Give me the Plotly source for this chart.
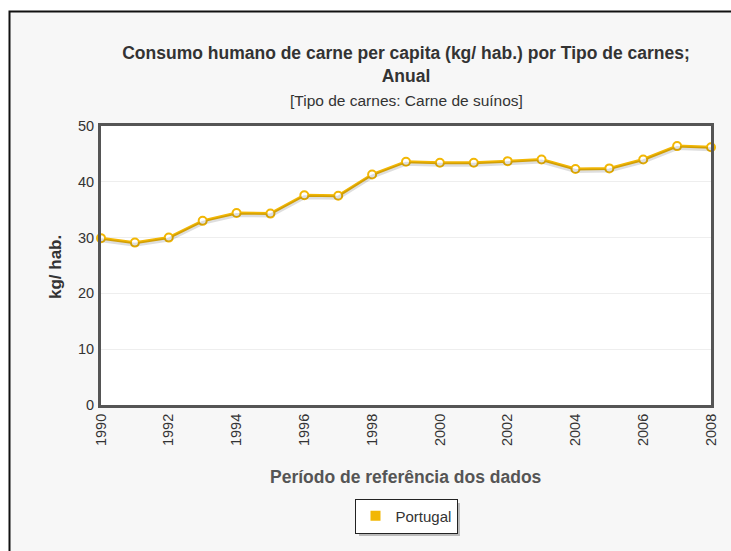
import plotly.graph_objects as go

years = list(range(1990, 2009))
values = [29.9, 29.1, 30.0, 33.0, 34.4, 34.3, 37.6, 37.5, 41.3, 43.6,
          43.4, 43.4, 43.7, 44.0, 42.3, 42.4, 44.0, 46.4, 46.2]
series_name = "Portugal"
x_ticks = list(range(1990, 2009, 2))
y_ticks = [0, 10, 20, 30, 40, 50]

GOLD = "#f2b705"
FONT = "Liberation Sans, Arial, sans-serif"

# window-space plot box
PL, PR, PT, PB = 101, 711, 126, 405
W, H = 731, 551
L, T = PL, PT
R = W - PR
B = H - PB
pw, ph = PR - PL, PB - PT
SHADOW_PX = 2
shadow_shift = SHADOW_PX * 50 / ph


def px(x):
    return (x - PL) / pw


def py(y):
    return (PB - y) / ph


fig = go.Figure()
# soft drop shadow of the line (same data on an overlaid, slightly shifted axis)
fig.add_trace(go.Scatter(
    x=years, y=values, mode="lines", yaxis="y2",
    line=dict(color="rgba(0,0,0,0.13)", width=4),
    showlegend=False, hoverinfo="skip",
))
fig.add_trace(go.Scatter(
    x=years, y=values, mode="lines+markers", name=series_name,
    line=dict(color=GOLD, width=3),
    marker=dict(size=8, color="white", line=dict(color=GOLD, width=2)),
    showlegend=False, cliponaxis=False,
))
fig.add_trace(go.Scatter(
    x=[None], y=[None], mode="markers", name=series_name,
    marker=dict(symbol="square", size=10, color=GOLD),
    showlegend=True,
))

fig.add_shape(type="rect", xref="paper", yref="paper",
              x0=px(9.5), x1=px(760), y0=py(580), y1=py(11.5),
              fillcolor="#f7f7f7", line=dict(color="#111111", width=2),
              layer="below")
fig.add_shape(type="rect", xref="paper", yref="paper",
              x0=0, x1=1, y0=0, y1=1,
              fillcolor="white", line=dict(width=0), layer="below")
# legend drop shadow
fig.add_shape(type="rect", xref="paper", yref="paper",
              x0=px(359), x1=px(460), y0=py(536), y1=py(503),
              fillcolor="#8a8a8a", opacity=0.55, line=dict(width=0), layer="above")

fig.add_annotation(text="[Tipo de carnes: Carne de suínos]", xref="paper", yref="paper",
                   x=px(406), y=py(100), showarrow=False, yanchor="middle",
                   font=dict(family=FONT, size=15.5, color="#333333"))
fig.add_annotation(text="<b>Período de referência dos dados</b>", xref="paper", yref="paper",
                   x=px(406), y=py(477), showarrow=False, yanchor="middle",
                   font=dict(family=FONT, size=17.5, color="#555555"))
fig.add_annotation(text="<b>kg/ hab.</b>", xref="paper", yref="paper",
                   x=px(55), y=py(267), showarrow=False, textangle=-90,
                   xanchor="center", yanchor="middle",
                   font=dict(family=FONT, size=17, color="#333333"))

fig.update_layout(
    width=W, height=H,
    margin=dict(l=L, r=R, t=T, b=B),
    paper_bgcolor="white",
    plot_bgcolor="white",
    title=dict(
        text="<b>Consumo humano de carne per capita (kg/ hab.) por Tipo de carnes;<br>Anual</b>",
        x=px(406), xanchor="center", xref="paper",
        y=1 - 59 / H, yanchor="middle",
        font=dict(family=FONT, size=17.5, color="#333333"),
    ),
    xaxis=dict(
        range=[1990, 2008], tickvals=x_ticks, ticktext=[str(v) for v in x_ticks],
        tickangle=-90, showgrid=False, zeroline=False,
        showline=True, linecolor="#555555", linewidth=3, mirror=True,
        ticks="", tickfont=dict(family=FONT, size=14.5, color="#333333"),
    ),
    yaxis=dict(
        range=[0, 50], tickvals=y_ticks, showgrid=True, gridcolor="#eeeeee", gridwidth=1,
        zeroline=False, showline=True, linecolor="#555555", linewidth=3, mirror=True,
        ticks="", ticklabelstandoff=1,
        tickfont=dict(family=FONT, size=14.5, color="#333333"),
    ),
    yaxis2=dict(
        overlaying="y", range=[shadow_shift, 50 + shadow_shift],
        visible=False, showgrid=False, zeroline=False,
    ),
    legend=dict(
        x=px(406), xanchor="center", y=py(516), yanchor="middle",
        bgcolor="white", bordercolor="#222222", borderwidth=1,
        font=dict(family=FONT, size=15, color="#333333"),
    ),
)

fig.write_html(
    "out.html",
    config={"displayModeBar": False},
    post_script="document.body.style.margin='0';document.body.style.overflow='hidden';",
)
